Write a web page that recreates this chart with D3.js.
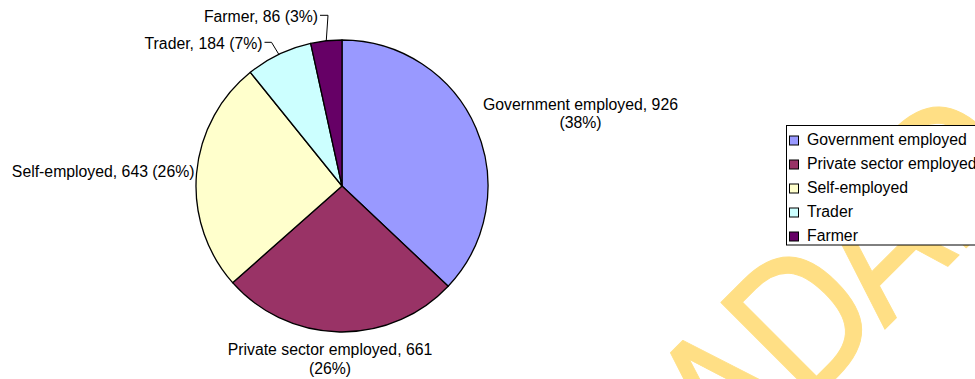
<!DOCTYPE html>
<html>
<head>
<meta charset="utf-8">
<script src="https://cdn.jsdelivr.net/npm/d3@7/dist/d3.min.js"></script>
<style>
  html, body { margin: 0; padding: 0; background: #fff; }
  svg { display: block; }
  text { font-family: "Liberation Sans", Arial, sans-serif; fill: #000; }
</style>
</head>
<body>
<svg id="chart" width="975" height="379"></svg>
<script>
// Respondents by occupation
const categories = ["Government employed", "Private sector employed", "Self-employed", "Trader", "Farmer"];
const values = [926, 661, 643, 184, 86];
const percentLabels = ["38%", "26%", "26%", "7%", "3%"];
const colors = ["#9999FF", "#993366", "#FFFFCC", "#CCFFFF", "#660066"];

const W = 975, H = 379;
const cx = 342, cy = 186, R = 146;
const fontSize = 15.8;

const svg = d3.select("#chart");

// faint watermark in the background
svg.append("text")
  .attr("transform", "translate(734,480) rotate(-45) scale(0.85,1)")
  .attr("text-anchor", "start")
  .style("font-family", "'DejaVu Sans', sans-serif")
  .style("font-size", "185px")
  .style("letter-spacing", "-8px")
  .style("fill", "#FFDF85")
  .style("stroke", "#FFDF85")
  .style("stroke-width", 1)
  .style("stroke-linejoin", "round")
  .text("ADAD");

const pie = d3.pie().sort(null).value(d => d)(values);
const arc = d3.arc().innerRadius(0).outerRadius(R);
const edge = d3.arc().innerRadius(R).outerRadius(R);

const g = svg.append("g").attr("transform", `translate(${cx},${cy})`);
g.selectAll("path.slice")
  .data(pie)
  .join("path")
  .attr("class", "slice")
  .attr("d", arc)
  .attr("fill", (d, i) => colors[i])
  .attr("stroke", "#000")
  .attr("stroke-width", 1.3)
  .attr("stroke-linejoin", "round");

// data labels: anchor point, text alignment, line layout
const labelLayout = [
  { x: 580.5, y: 109.5, anchor: "middle", wrap: true },
  { x: 330,   y: 355,   anchor: "middle", wrap: true },
  { x: 194.5, y: 177,   anchor: "end",    wrap: false },
  { x: 262.5, y: 49.3,  anchor: "end",    wrap: false, leader: { y: 42.3, dx: 7 } },
  { x: 318,   y: 21.7,  anchor: "end",    wrap: false, leader: { y: 15.3, dx: 8 } }
];
const lineGap = 18.8;

pie.forEach((d, i) => {
  const L = labelLayout[i];
  const head = `${categories[i]}, ${values[i]}`;
  const t = svg.append("text")
    .attr("x", L.x).attr("y", L.y)
    .attr("text-anchor", L.anchor)
    .style("font-size", fontSize + "px");
  if (L.wrap) {
    t.append("tspan").attr("x", L.x).attr("y", L.y).text(head);
    t.append("tspan").attr("x", L.x).attr("y", L.y + lineGap).text(`(${percentLabels[i]})`);
  } else {
    t.text(`${head} (${percentLabels[i]})`);
  }
  if (L.leader) {
    const [ex, ey] = edge.centroid(d);
    const x0 = L.x + 2;
    svg.append("path")
      .attr("d", d3.line()([[x0, L.leader.y], [x0 + L.leader.dx, L.leader.y], [cx + ex, cy + ey]]))
      .attr("fill", "none")
      .attr("stroke", "#000")
      .attr("stroke-width", 1);
  }
});

// legend
const lgX = 786.5, lgY = 125.5, rowH = 24, firstBase = 144.5;
svg.append("rect")
  .attr("x", lgX).attr("y", lgY)
  .attr("width", W - lgX + 10).attr("height", 119.5)
  .attr("fill", "#fff").attr("stroke", "#000").attr("stroke-width", 1);

const rows = svg.append("g").selectAll("g")
  .data(categories)
  .join("g")
  .attr("transform", (d, i) => `translate(0,${firstBase + i * rowH})`);
rows.append("rect")
  .attr("x", 789.5).attr("y", -8.5)
  .attr("width", 9).attr("height", 9)
  .attr("fill", (d, i) => colors[i])
  .attr("stroke", "#000").attr("stroke-width", 1);
rows.append("text")
  .attr("x", 807).attr("y", 0)
  .style("font-size", fontSize + "px")
  .text(d => d);
</script>
</body>
</html>
